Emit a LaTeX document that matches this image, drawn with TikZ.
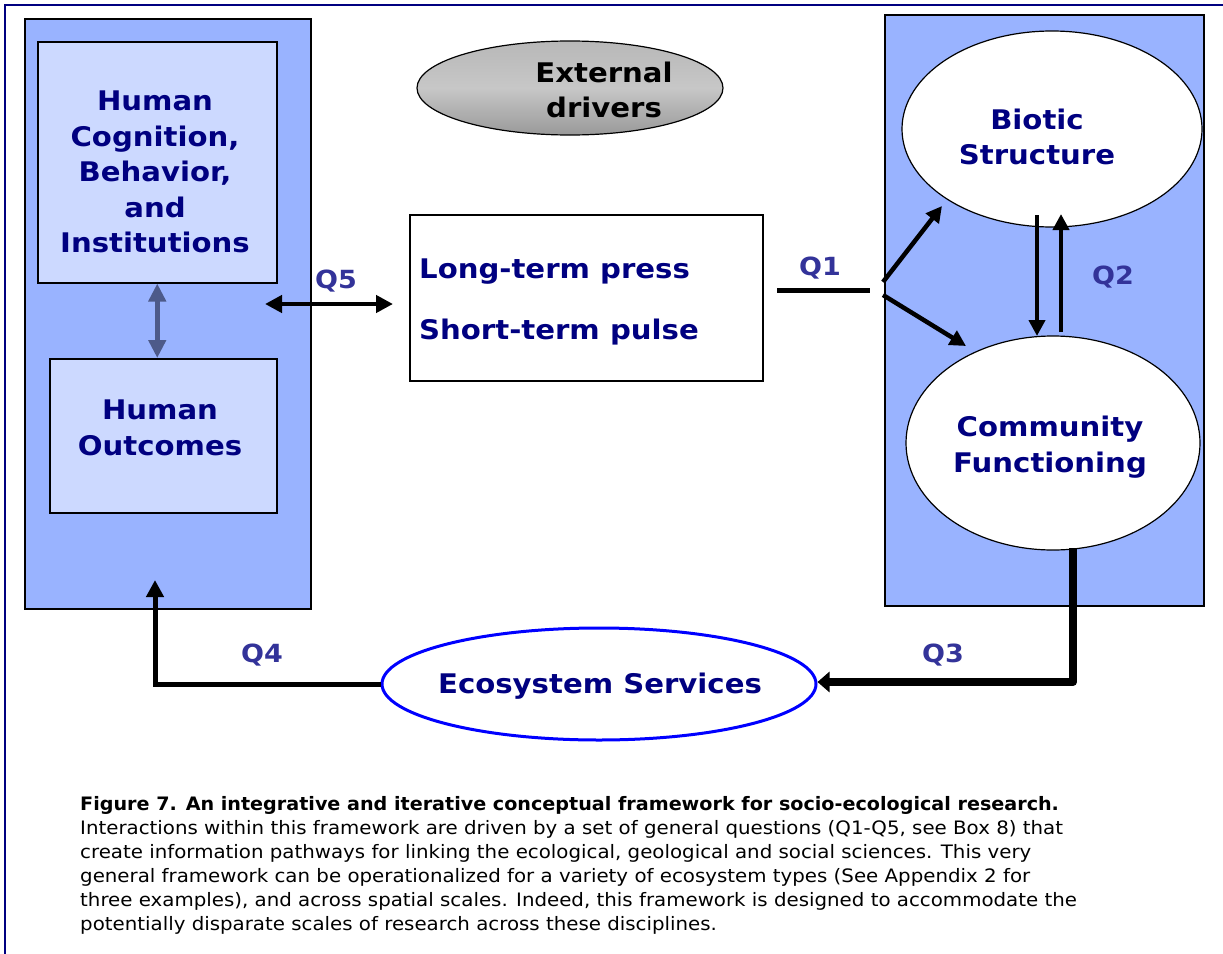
\documentclass[tikz,border=0pt]{standalone}
\usepackage{fontspec}
\setmainfont{DejaVu Sans}
\newfontfamily\vb[FakeStretch=1.08]{DejaVu Sans Bold}
\newfontfamily\capreg[FakeStretch=1.07]{DejaVu Sans}
\newfontfamily\capbold[FakeStretch=1.035]{DejaVu Sans Bold}
\usetikzlibrary{arrows.meta,shapes.geometric}
\definecolor{navy}{HTML}{000080}
\definecolor{qcol}{HTML}{333399}
\definecolor{panel}{HTML}{99B3FF}
\definecolor{innerc}{HTML}{CCD9FF}
\definecolor{grayarr}{HTML}{4D5A8A}
\definecolor{esblue}{HTML}{0000FF}
\begin{document}
\begin{tikzpicture}[x=1pt,y=-1pt,
  lbl/.style={font=\vb\fontsize{27}{35.6}\selectfont, text=navy, align=center, inner sep=0pt},
  qlbl/.style={font=\vb\fontsize{25}{30}\selectfont, text=qcol, inner sep=0pt},
  panelbox/.style={draw=black, line width=1.5pt, fill=panel, anchor=north west, inner sep=0pt},
  innerbox/.style={draw=black, line width=1.5pt, fill=innerc, anchor=north west, inner sep=0pt},
  ell/.style={ellipse, draw=black, line width=1.2pt, fill=white, inner sep=0pt},
  blk/.style={line width=4.5pt, -{Triangle[length=16pt,width=16pt]}},
]
\useasboundingbox (0,0) rectangle (1223,953);
\draw[navy, line width=2.5pt] (5,5) rectangle (1245,975);

% left panel
\node[panelbox, minimum width=286pt, minimum height=590pt] (lp) at (24,18) {};
\node[innerbox, minimum width=239pt, minimum height=241pt] (hb) at (37,41) {};
\node[innerbox, minimum width=227pt, minimum height=154pt] (ob) at (49,358) {};
\node[lbl] (hbt) at (155,172) {Human\\Cognition,\\Behavior,\\and\\Institutions};
\node[lbl] (obt) at (160,428) {Human\\Outcomes};
\draw[grayarr, line width=5pt, {Triangle[length=18pt,width=17pt]}-{Triangle[length=18pt,width=17pt]}] (hb.south) -- (hb.south |- ob.north);

% right panel
\node[panelbox, minimum width=319pt, minimum height=591pt] (rp) at (884,14) {};
\node[ell, minimum width=300pt, minimum height=196pt] (bs) at (1052,129) {};
\node[lbl] (bst) at (1037,137) {Biotic\\Structure};
\node[ell, minimum width=294pt, minimum height=214pt] (cf) at (1053,443) {};
\node[lbl] (cft) at (1050,447) {Community\\Functioning};

% external drivers
\node[ellipse, draw=black, line width=1.2pt, inner sep=0pt, top color=black!28, bottom color=black!40, middle color=black!22, minimum width=306pt, minimum height=94pt] (ed) at (570,88) {};
\node[lbl, text=black] (edt) at (604,90) {External\\drivers};

% middle box
\node[draw=black, line width=1.5pt, fill=white, anchor=north west, inner sep=0pt, minimum width=353pt, minimum height=166pt] (mb) at (409,214) {};
\node[lbl, anchor=base west] (lt) at (419,278) {Long-term press};
\node[lbl, anchor=base west] (st) at (419,339) {Short-term pulse};

% ecosystem services
\node[ellipse, draw=esblue, line width=3pt, fill=white, inner sep=0pt, minimum width=434pt, minimum height=112pt] (es) at (599,684) {};
\node[lbl] (est) at (600,686) {Ecosystem Services};

% Q5
\coordinate (q5a) at (265,304);
\coordinate (q5b) at (393,304);
\draw[line width=4.5pt, {Triangle[length=17pt,width=17pt]}-{Triangle[length=17pt,width=17pt]}] (q5a) -- (q5b);
\node[qlbl] (q5) at (336,281) {Q5};

% Q1
\coordinate (q1a) at (777,290);
\coordinate (q1b) at (870,290);
\coordinate (q1c) at (883,282);
\coordinate (q1d) at (883,295);
\coordinate (bsin) at (942,206);
\coordinate (cfin) at (966,346);
\draw[line width=5pt] (q1a) -- (q1b);
\draw[blk] (q1c) -- (bsin);
\draw[blk] (q1d) -- (cfin);
\node[qlbl] (q1) at (820,268) {Q1};

% Q2
\coordinate (q2a) at (1037,215);
\coordinate (q2b) at (1037,336);
\coordinate (q2c) at (1061,332);
\coordinate (q2d) at (1061,214);
\draw[blk] (q2a) -- (q2b);
\draw[blk] (q2c) -- (q2d);
\node[qlbl] (q2) at (1113,277) {Q2};

% Q3
\coordinate (q3a) at (1073,548);
\coordinate (q3b) at (1073,682);
\draw[line width=8pt, line join=round, -{Triangle[length=12pt,width=20pt]}] (q3a) -- (q3b) -- (es.east |- q3b);
\node[qlbl] (q3) at (943,655) {Q3};

% Q4
\coordinate (q4a) at (155,684);
\coordinate (q4b) at (155,580);
\draw[line width=5pt, -{Triangle[length=17pt,width=17pt]}] (es.west) -- (q4a) -- (q4b);
\node[qlbl] (q4) at (262,655) {Q4};

% caption
\node[anchor=base west, align=left, inner sep=0pt, font=\capreg\fontsize{18.5}{24}\selectfont] (cap) at (80,930) {{\capbold Figure 7. An integrative and iterative conceptual framework for socio-ecological research.}\\
Interactions within this framework are driven by a set of general questions (Q1-Q5, see Box 8) that\\
create information pathways for linking the ecological, geological and social sciences. This very\\
general framework can be operationalized for a variety of ecosystem types (See Appendix 2 for\\
three examples), and across spatial scales. Indeed, this framework is designed to accommodate the\\
potentially disparate scales of research across these disciplines.};
\end{tikzpicture}
\end{document}
